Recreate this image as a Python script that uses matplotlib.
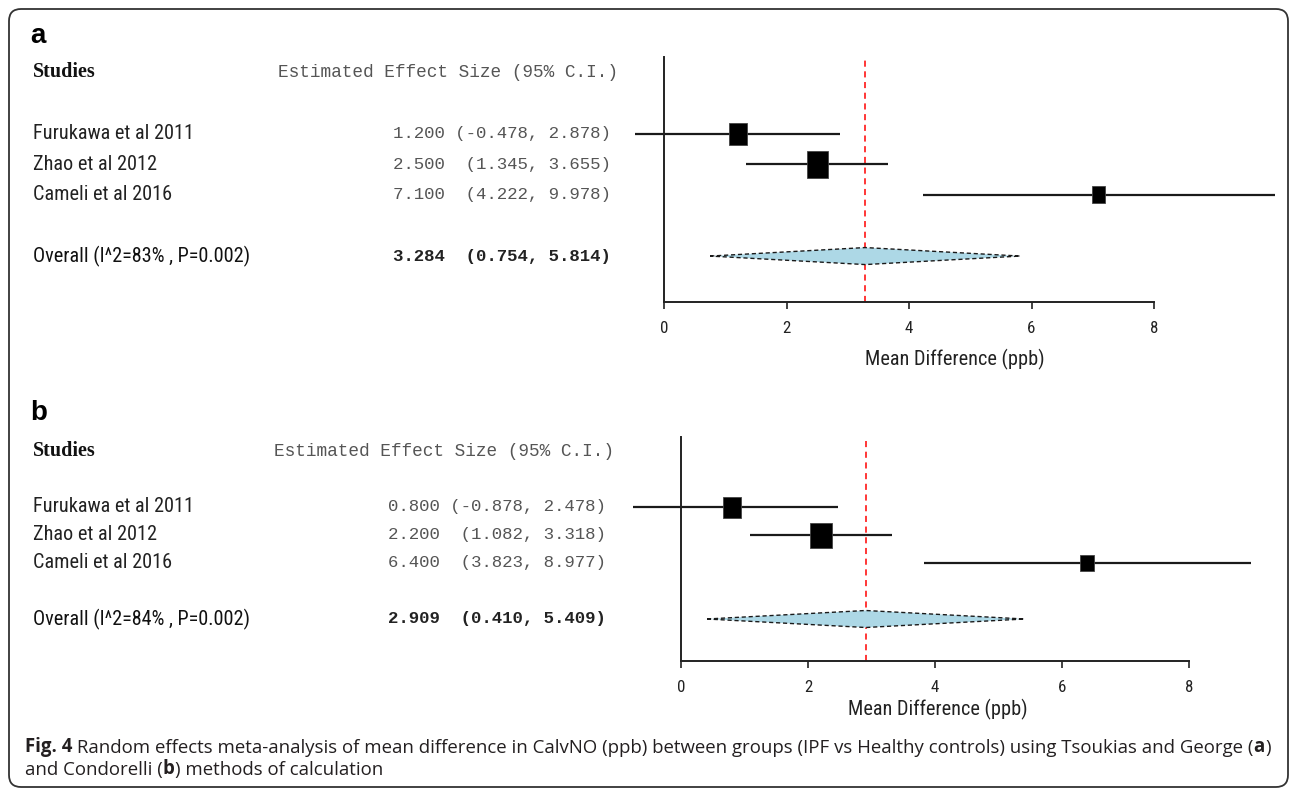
import matplotlib
matplotlib.use("Agg")
import matplotlib.pyplot as plt
import matplotlib.transforms as mtransforms
from matplotlib.patches import Rectangle, Polygon, FancyBboxPatch
from matplotlib import font_manager

W, H = 1290, 789

# ---------------- data ----------------
studies = ["Furukawa et al 2011", "Zhao et al 2012", "Cameli et al 2016"]

# panel a : Tsoukias and George
est_a = [1.200, 2.500, 7.100]
lo_a = [-0.478, 1.345, 4.222]
hi_a = [2.878, 3.655, 9.978]
overall_a = [3.284, 0.754, 5.814]   # estimate, lower, upper
i2_a, p_a = 83, 0.002

# panel b : Condorelli
est_b = [0.800, 2.200, 6.400]
lo_b = [-0.878, 1.082, 3.823]
hi_b = [2.478, 3.318, 8.977]
overall_b = [2.909, 0.410, 5.409]
i2_b, p_b = 84, 0.002

xticks = [0, 2, 4, 6, 8]

# ---------------- fonts ----------------
# look for a condensed sans face; otherwise shrink normal Liberation Sans
entries = font_manager.fontManager.ttflist
NARROW, NSTRETCH, nscale = "Liberation Sans", "normal", 0.82
if any(f.name == "Liberation Sans Narrow" for f in entries):
    NARROW, NSTRETCH, nscale = "Liberation Sans Narrow", "normal", 1.0
else:
    for cand in ["Roboto Condensed", "Noto Sans", "DejaVu Sans", "Open Sans", "Roboto"]:
        if any(f.name == cand and "condensed" in str(f.stretch) for f in entries):
            NARROW, NSTRETCH, nscale = cand, "condensed", 0.97
            break
MONO = "Liberation Mono"
SERIF = "Liberation Serif"
CAP = "Open Sans"
nkw = dict(fontfamily=NARROW, fontstretch=NSTRETCH)

fig = plt.figure(figsize=(W / 100, H / 100), dpi=100)


def draw_panel(letter, est, lo, hi, overall, i2, p, geo, box_w, box_h):
    zero_px, eight_px, top_px, bot_px, letter_y, head_x, num_r, xlab_y = geo
    ppu = (eight_px - zero_px) / 8.0
    ppr = (bot_px - top_px) / 8.0
    xlim = (-0.75, 10.1)
    left = zero_px + xlim[0] * ppu
    width = (xlim[1] - xlim[0]) * ppu
    ax = fig.add_axes([left / W, 1 - bot_px / H, width / W, (bot_px - top_px) / H])
    ax.set_xlim(*xlim)
    ax.set_ylim(7.5, -0.5)
    ax.patch.set_visible(False)
    ax.spines["top"].set_visible(False)
    ax.spines["right"].set_visible(False)
    ax.spines["left"].set_position(("data", 0))
    ax.spines["bottom"].set_bounds(xticks[0], xticks[-1])
    for s in ["left", "bottom"]:
        ax.spines[s].set_linewidth(1.4)
        ax.spines[s].set_color("#222222")
    ax.set_yticks([])
    ax.set_xticks(xticks)
    ax.set_xticklabels([str(t) for t in xticks], fontsize=12.5 * nscale,
                       color="#222222", **nkw)
    ax.tick_params(axis="x", direction="out", length=5, width=1.2,
                   color="#222222", pad=9)

    rows = [2, 3, 4]
    orow = 6
    ax.axvline(overall[0], color="red", ls=(0, (4, 3)), lw=1.1, zorder=1)
    ax.hlines(rows, lo, hi, color="#1a1a1a", lw=1.6, zorder=2)
    for e, r, bw, bh in zip(est, rows, box_w, box_h):
        ax.add_patch(Rectangle((e - bw / 2 / ppu, r - bh / 2 / ppr), bw / ppu, bh / ppr,
                               fc="black", ec="#444444", lw=0.6, zorder=3))
    dh = 8.5 / ppr
    ax.add_patch(Polygon([(overall[1], orow), (overall[0], orow - dh),
                          (overall[2], orow), (overall[0], orow + dh)],
                         closed=True, fc="#add8e6", ec="#1a1a1a", lw=1.0,
                         ls=(0, (3, 2)), zorder=2))

    # x label centred on the span of the intervals
    tx = mtransforms.blended_transform_factory(ax.transData, fig.transFigure)
    ax.text((min(lo) + max(hi)) / 2, 1 - xlab_y / H, "Mean Difference (ppb)",
            transform=tx, ha="center", va="center", fontsize=15 * nscale,
            color="#222222", **nkw)

    # left-hand table
    tt = mtransforms.blended_transform_factory(fig.transFigure, ax.transData)
    fig.text(30 / W, 1 - letter_y / H, letter, fontfamily="Liberation Sans",
             fontweight="bold", fontsize=20, ha="left", va="center", color="black")
    ax.text(33 / W, 0, "Studies", transform=tt, fontfamily=SERIF, fontweight="bold",
            fontsize=14.5, ha="left", va="center", color="#111111")
    ax.text(head_x / W, 0, "Estimated Effect Size (95% C.I.)", transform=tt,
            fontfamily=MONO, fontsize=12.8, ha="left", va="center", color="#555555")
    for name, e, l, h, r in zip(studies, est, lo, hi, rows):
        ax.text(33 / W, r, name, transform=tt, fontsize=15 * nscale, ha="left",
                va="center", color="#222222", **nkw)
        s = "%.3f %8s %.3f)" % (e, "(%.3f," % l, h)
        ax.text(num_r / W, r, s, transform=tt, fontfamily=MONO, fontsize=12.5,
                ha="right", va="center", color="#555555")
    ax.text(33 / W, orow, "Overall (I^2=%d%% , P=%.3f)" % (i2, p), transform=tt,
            fontsize=15 * nscale, ha="left", va="center", color="#111111", **nkw)
    s = "%.3f %8s %.3f)" % (overall[0], "(%.3f," % overall[1], overall[2])
    ax.text(num_r / W, orow, s, transform=tt, fontfamily=MONO, fontweight="bold",
            fontsize=12.5, ha="right", va="center", color="#222222")
    return ax


# geometry: x=0 px, x=8 px, axis top px, axis bottom px, letter y, header x,
#           numbers right edge, xlabel y
draw_panel("a", est_a, lo_a, hi_a, overall_a, i2_a, p_a,
           (664, 1154, 57, 302, 36, 278, 611, 359), [18, 21, 13], [22, 27, 17])
draw_panel("b", est_b, lo_b, hi_b, overall_b, i2_b, p_b,
           (681, 1189, 437, 661, 413, 274, 606, 709), [18, 22, 14], [21, 25, 16])

# caption, pieces chained one after another
canvas = fig.add_axes([0, 0, 1, 1])
canvas.set_axis_off()
CAPSIZE = 13.4
line1 = [("Fig. 4", "bold"),
         (" Random effects meta-analysis of mean difference in CalvNO (ppb) between groups "
          "(IPF vs Healthy controls) using Tsoukias and George (", "normal"),
         ("a", "bold"), (")", "normal")]
line2 = [("and Condorelli (", "normal"), ("b", "bold"), (") methods of calculation", "normal")]
for line, base_y in [(line1, 752), (line2, 775)]:
    prev = None
    for txt, wt in line:
        if prev is None:
            prev = canvas.text(25 / W, 1 - base_y / H, txt, fontweight=wt,
                               transform=fig.transFigure, ha="left", va="baseline",
                               fontfamily=CAP, fontsize=CAPSIZE, color="#231f20")
        else:
            prev = canvas.annotate(txt, xy=(1, 0), xycoords=prev, fontweight=wt,
                                   ha="left", va="bottom", fontfamily=CAP,
                                   fontsize=CAPSIZE, color="#231f20")

# outer frame with rounded corners
frame = FancyBboxPatch((9, 2), 1279, 778, boxstyle="round,pad=0,rounding_size=12",
                       transform=mtransforms.IdentityTransform(), fill=False,
                       ec="#333333", lw=1.3)
fig.patches.append(frame)

fig.savefig("out.png", dpi=100)
